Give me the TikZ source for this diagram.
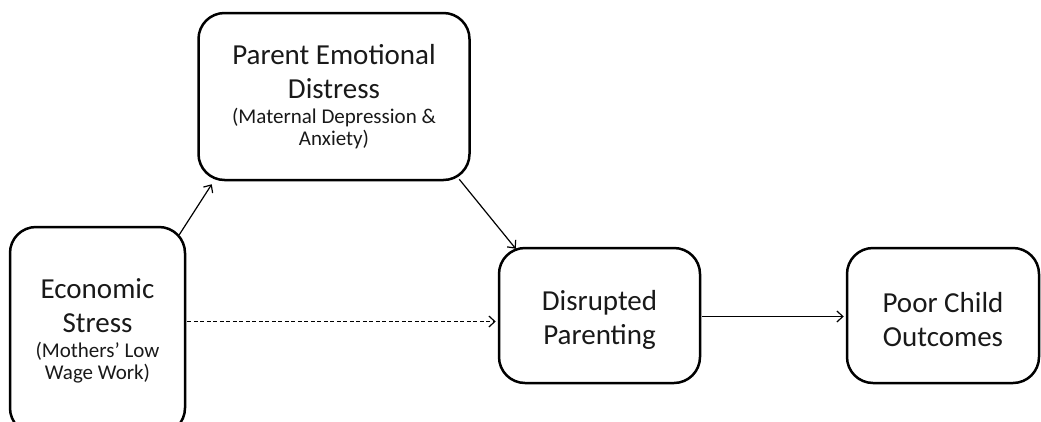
\documentclass[tikz,border=0pt]{standalone}
\usepackage{fontspec}
\setmainfont{Carlito}
\usetikzlibrary{arrows.meta,calc}
\begin{document}
\begin{tikzpicture}[x=1pt,y=-1pt,
  box/.style={draw=black, line width=2.5pt, rounded corners=26pt, align=center,
    inner sep=0pt, text=black!90, font=\fontsize{29}{34}\selectfont},
  arr/.style={draw=black, line width=1.2pt, -{Straight Barb[length=6pt,width=11pt,line width=1.2pt]}}]
\useasboundingbox (0,0) rectangle (1041,421);
\node[box, minimum width=175pt, minimum height=207pt] (ES) at (97.5,330.5)
  {Economic\\Stress\\[-9pt]\fontsize{21}{22}\selectfont (Mothers’ Low\\[-12pt]\fontsize{21}{22}\selectfont Wage Work)};
\node[box, minimum width=271pt, minimum height=167pt] (PED) at (334,96.5)
  {Parent Emotional\\Distress\\[-9pt]\fontsize{21}{22}\selectfont (Maternal Depression \&\\[-12pt]\fontsize{21}{22}\selectfont Anxiety)};
\node[box, minimum width=201pt, minimum height=135pt] (DP) at (599.5,315.5)
  {\mbox{}\\[-5pt]Disrupted\\Parenting};
\node[box, minimum width=192pt, minimum height=135pt] (PCO) at (943,315.5)
  {\mbox{}\\[-5pt]Poor Child\\Outcomes};
\draw[arr] ($(ES.north east)+(-7,9)$) -- ($(PED.south west)+(14.5,3)$);
\draw[arr] ($(PED.south east)+(-11.5,-2)$) -- ($(DP.north west)+(18,2)$);
\draw[arr, dash pattern=on 4pt off 2.5pt] ($(ES.east)+(1,-9)$) -- ($(DP.west)+(-2,6)$);
\draw[arr] ($(DP.east)+(1,1)$) -- ($(PCO.west)+(-2,1)$);
\end{tikzpicture}
\end{document}
